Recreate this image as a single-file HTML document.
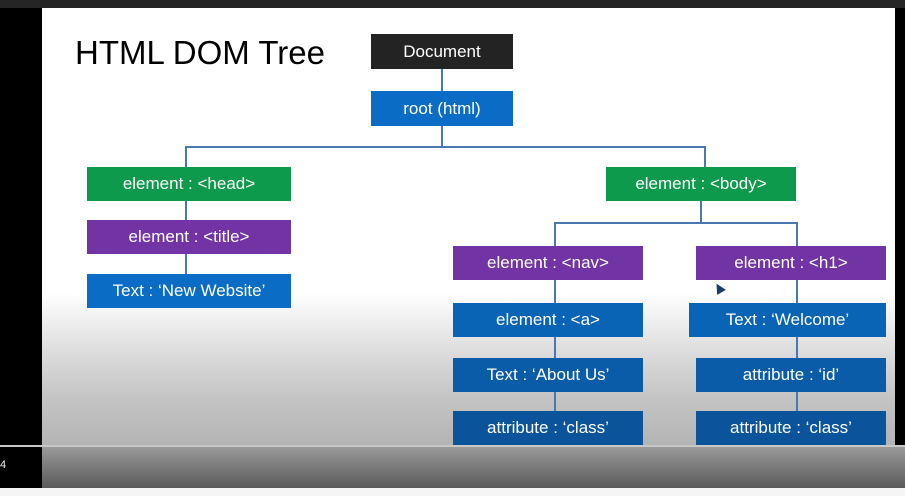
<!DOCTYPE html>
<html><head><style>
body{margin:0;width:905px;height:496px;overflow:hidden;background:#000;position:relative;font-family:"Liberation Sans",sans-serif}
.a{position:absolute}
.b{position:absolute;color:#fff;font-size:17px;display:flex;align-items:center;justify-content:center;white-space:nowrap}
.l{position:absolute;background:#4a78b0}
.bl{background:#0a6cc4}.gr{background:#0e9a4c}.pu{background:#7234a4}
</style></head><body>
<div class="a" style="left:0;top:0;width:905px;height:8px;background:#252525"></div>
<div class="a" style="left:42px;top:8px;width:853px;height:437px;background:linear-gradient(#fff 0px,#fff 285px,#dcdcdc 345px,#c4c4c4 390px,#b4b4b4 437px)"></div>
<div class="a" style="left:75px;top:34px;font-size:33px;color:#000">HTML DOM Tree</div>
<div class="l" style="left:441px;top:69px;width:2px;height:22px"></div>
<div class="l" style="left:441px;top:126px;width:2px;height:21px"></div>
<div class="l" style="left:185px;top:146px;width:521px;height:2px"></div>
<div class="l" style="left:185px;top:146px;width:2px;height:21px"></div>
<div class="l" style="left:704px;top:146px;width:2px;height:21px"></div>
<div class="l" style="left:185px;top:201px;width:2px;height:73px"></div>
<div class="l" style="left:700px;top:201px;width:2px;height:22px"></div>
<div class="l" style="left:554px;top:222px;width:244px;height:2px"></div>
<div class="l" style="left:554px;top:222px;width:2px;height:200px"></div>
<div class="l" style="left:796px;top:222px;width:2px;height:200px"></div>
<div class="b" style="left:371px;top:34px;width:142px;height:35px;background:#232323">Document</div>
<div class="b bl" style="left:371px;top:91px;width:142px;height:35px">root (html)</div>
<div class="b gr" style="left:87px;top:167px;width:204px;height:34px">element : &lt;head&gt;</div>
<div class="b pu" style="left:87px;top:220px;width:204px;height:34px">element : &lt;title&gt;</div>
<div class="b bl" style="left:87px;top:274px;width:204px;height:34px">Text : ‘New Website’</div>
<div class="b gr" style="left:606px;top:167px;width:190px;height:34px">element : &lt;body&gt;</div>
<div class="b pu" style="left:453px;top:246px;width:190px;height:34px">element : &lt;nav&gt;</div>
<div class="b pu" style="left:696px;top:246px;width:190px;height:34px">element : &lt;h1&gt;</div>
<div class="b" style="left:453px;top:303px;width:190px;height:34px;background:#0964b6">element : &lt;a&gt;</div>
<div class="b" style="left:689px;top:303px;width:197px;height:34px;background:#0964b6">Text : ‘Welcome’</div>
<div class="b" style="left:453px;top:358px;width:190px;height:34px;background:#0a5ca8">Text : ‘About Us’</div>
<div class="b" style="left:696px;top:358px;width:190px;height:34px;background:#0a5ca8">attribute : ‘id’</div>
<div class="b" style="left:453px;top:411px;width:190px;height:34px;background:#0b549b">attribute : ‘class’</div>
<div class="b" style="left:696px;top:411px;width:190px;height:34px;background:#0b549b">attribute : ‘class’</div>
<div class="a" style="left:714px;top:283px;width:0;height:0;border-left:5px solid transparent;border-right:5px solid transparent;border-bottom:10px solid #1a3a6a;transform:rotate(-30deg)"></div>
<div class="a" style="left:0;top:445px;width:905px;height:2px;background:#c8c8c8"></div>
<div class="a" style="left:42px;top:447px;width:863px;height:41px;background:linear-gradient(#9a9a9a,#5a5a5a)"></div>
<div class="a" style="left:0;top:447px;width:42px;height:41px;background:#000"></div>
<div class="a" style="left:0;top:459px;color:#eee;font-size:11px">4</div>
<div class="a" style="left:0;top:488px;width:905px;height:8px;background:#f5f5f5"></div>
</body></html>
